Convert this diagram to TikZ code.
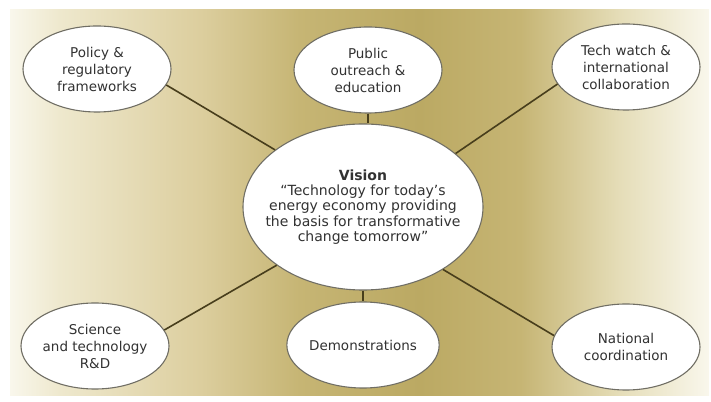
\documentclass[tikz,border=0pt]{standalone}
\usepackage{fontspec}
\setmainfont{DejaVu Sans}
\usepackage{xcolor}
\usepackage{tikz}
\usetikzlibrary{shapes}

% Panel colours
\definecolor{cream}{RGB}{249,247,236}
\definecolor{paleolive}{RGB}{238,232,205}
\definecolor{tanolive}{RGB}{220,206,158}
\definecolor{midolive}{RGB}{198,181,116}
\definecolor{darkolive}{RGB}{187,169,99}
\definecolor{lightolive}{RGB}{229,221,184}
\definecolor{linkolive}{RGB}{72,62,28}
\definecolor{rimgray}{RGB}{112,110,100}
\definecolor{inkgray}{RGB}{50,50,50}

\pgfdeclarehorizontalshading{panelshade}{100bp}{color(0bp)=(cream); color(25bp)=(cream);
  color(28.6bp)=(paleolive); color(38.6bp)=(tanolive); color(45.7bp)=(midolive);
  color(54.3bp)=(darkolive); color(61.5bp)=(midolive); color(68.6bp)=(lightolive);
  color(75bp)=(cream); color(100bp)=(cream)}

\tikzset{
  topic/.style={ellipse, draw=rimgray, line width=1.1pt, fill=white,
    minimum width=148pt, minimum height=86pt, inner sep=0pt, align=center,
    text=inkgray, font=\fontsize{13.5}{17}\selectfont},
  hub/.style={topic, minimum width=240pt, minimum height=166pt, inner xsep=-24pt,
    font=\fontsize{14}{15.2}\selectfont},
  link/.style={draw=linkolive, line width=1.6pt}
}

\begin{document}
\begin{tikzpicture}[x=1pt,y=1pt]
\useasboundingbox (0,0) rectangle (711,401);

% Shaded panel
\shade[shading=panelshade] (10,6) rectangle (709,391);

% Central vision
\node[hub] (vision) at (363,194) {{\bfseries Vision}\\“Technology for today’s\\energy economy providing\\the basis for transformative\\change tomorrow”};

% Surrounding activities
\node[topic] (policy) at (97,332) {Policy \&\\regulatory\\frameworks};
\node[topic] (public) at (368,331) {Public\\outreach \&\\education};
\node[topic] (tech) at (626,334) {Tech watch \&\\international\\collaboration};
\node[topic] (science) at (95,55) {Science\\and technology\\R\&D};
\node[topic] (demo) at (363,56) {Demonstrations};
\node[topic] (national) at (626,54) {National\\coordination};

% Spokes
\foreach \name/\from/\to in {policy/-13/147, tech/194/30, science/13/214, national/171/322}
  \draw[link] (\name.\from) -- (vision.\to);
\draw[link] (public.south) -- (public.south |- vision.north);
\draw[link] (vision.south) -- (demo.north);
\end{tikzpicture}
\end{document}
